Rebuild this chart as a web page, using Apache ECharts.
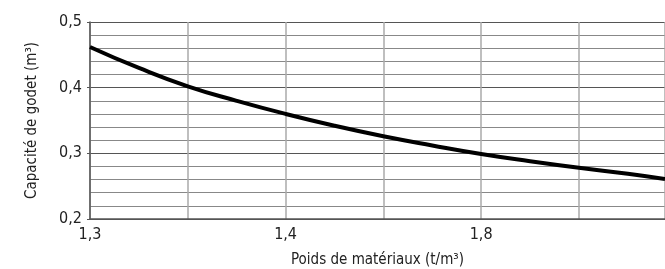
<!DOCTYPE html>
<html>
<head>
<meta charset="utf-8">
<script src="https://cdn.jsdelivr.net/npm/echarts@6/dist/echarts.min.js"></script>
<style>
  html, body { margin: 0; padding: 0; background: #fff; }
  #chart { width: 665px; height: 269px; }
</style>
</head>
<body>
<div id="chart"></div>
<script>
// positions sur l'axe x (une case = une ligne verticale de la grille)
const xPos = [0, 0.5, 1, 1.5, 2, 2.5, 3, 3.5, 4, 4.5, 5, 5.5, 5.88]
// capacité de godet (m3)
const capacite = [0.462, 0.430, 0.402, 0.380, 0.360, 0.342, 0.326, 0.312, 0.299, 0.288, 0.278, 0.269, 0.261]
// libellés de l'axe x
const xLabels = ['1,3', '', '1,4', '', '1,8', '']

const font = '"Liberation Sans Narrow", "DejaVu Sans Condensed", sans-serif'

const chart = echarts.init(document.getElementById('chart'))
chart.setOption({
  animation: false,
  grid: { left: 90, top: 22, right: 0, bottom: 50, outerBoundsMode: 'none' },
  xAxis: {
    type: 'value',
    min: 0,
    max: 5.88,
    interval: 1,
    name: 'Poids de matériaux (t/m³)',
    nameLocation: 'middle',
    nameGap: 34,
    nameTextStyle: { fontFamily: font, fontSize: 15, color: '#222' },
    axisLine: { lineStyle: { color: '#555', width: 1.5 } },
    axisTick: { show: false },
    axisLabel: {
      fontFamily: font, fontSize: 16, color: '#222', margin: 8,
      showMaxLabel: false,
      formatter: v => xLabels[Math.round(v)] || ''
    },
    splitLine: { show: true, lineStyle: { color: '#aaa', width: 1.5 } }
  },
  yAxis: {
    type: 'value',
    min: 0.2,
    max: 0.5,
    interval: 0.1,
    name: 'Capacité de godet (m³)',
    nameLocation: 'middle',
    nameGap: 50,
    nameRotate: 90,
    nameTextStyle: { fontFamily: font, fontSize: 15, color: '#222' },
    axisLine: { show: true, lineStyle: { color: '#555', width: 1.5 } },
    axisTick: { show: true, length: 3, lineStyle: { color: '#555' } },
    axisLabel: {
      fontFamily: font, fontSize: 16, color: '#222', margin: 8,
      formatter: v => v.toFixed(1).replace('.', ',')
    },
    splitLine: { lineStyle: { color: '#555', width: 1.2 } },
    minorTick: { show: false, splitNumber: 5 },
    minorSplitLine: { show: true, lineStyle: { color: '#888', width: 1.2 } }
  },
  series: [{
    type: 'line',
    data: xPos.map((x, i) => [x, capacite[i]]),
    smooth: true,
    showSymbol: false,
    lineStyle: { color: '#000', width: 4 }
  }]
})
</script>
</body>
</html>
